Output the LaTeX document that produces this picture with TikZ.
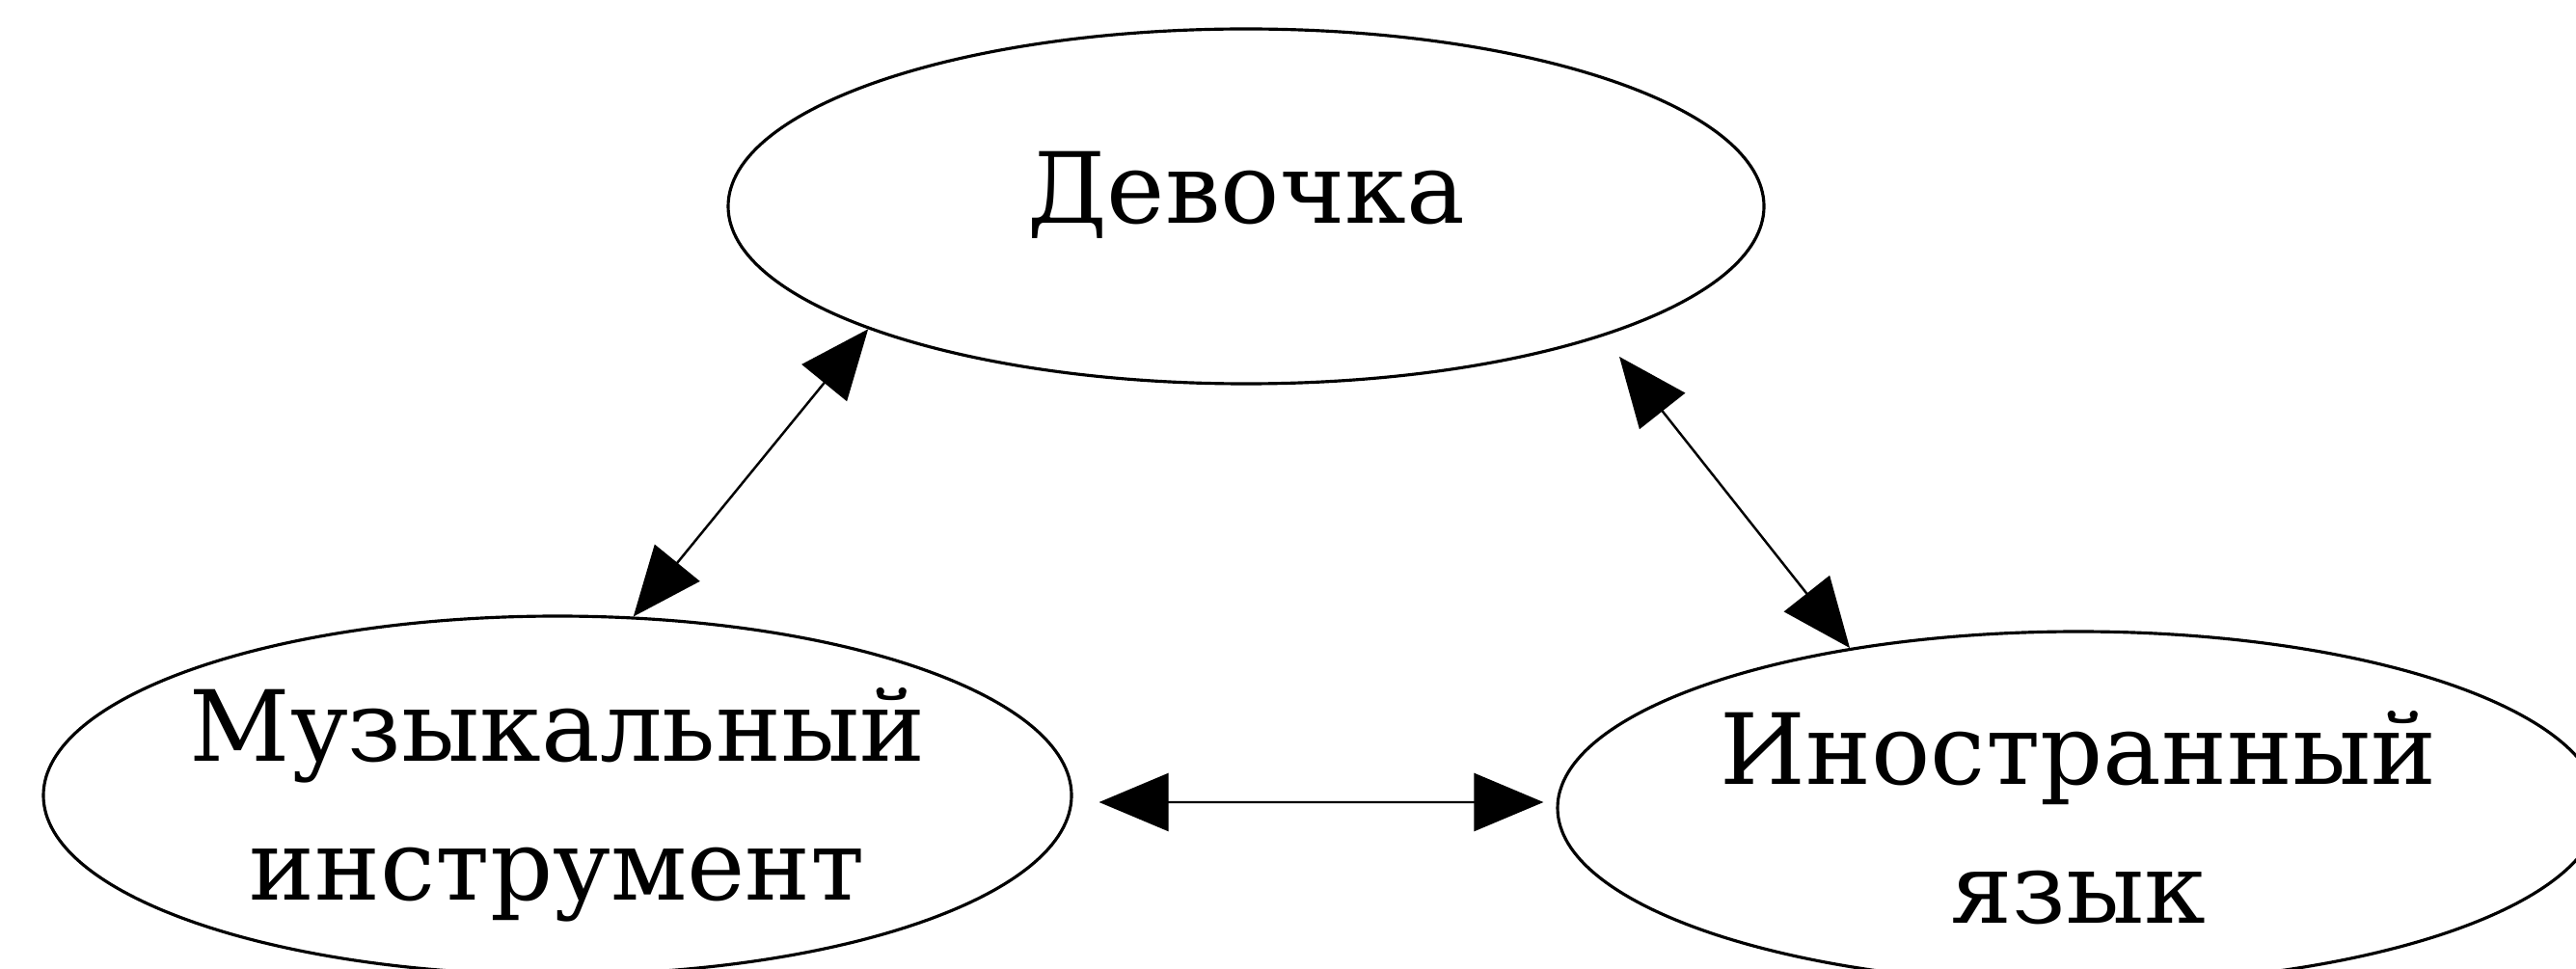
\documentclass[tikz,border=0pt]{standalone}
\usepackage{fontspec}
\setmainfont{DejaVu Serif}
\usetikzlibrary{shapes.geometric, arrows.meta, positioning}

\begin{document}
\begin{tikzpicture}[
    topic/.style={ellipse, draw, line width=0.9pt, align=center, inner sep=-0.5cm, font=\fontsize{29}{41}\selectfont},
    link/.style={line width=0.7pt, {Triangle[length=0.72cm, width=0.6cm]}-{Triangle[length=0.72cm, width=0.6cm]}}
]
\useasboundingbox (0,0) rectangle (26.71,-10.05);

\node[topic, minimum width=10.74cm, minimum height=3.68cm, text height=0.8cm, text depth=0.44cm] (girl) at (12.92,-2.14) {Девочка};
\node[topic, minimum width=10.66cm, minimum height=3.72cm] (music) at (5.78,-8.25) {\rule{0pt}{1cm}Музыкальный\\инструмент\rule[-0.27cm]{0pt}{0pt}};
\node[topic, minimum width=10.80cm, minimum height=3.66cm] (lang) at (21.55,-8.38) {\rule{0pt}{1cm}Иностранный\\язык\rule[-0.05cm]{0pt}{0pt}};

\draw[link] (music.67.9) -- (girl.198.1);
\draw[link, shorten >=0.27cm] (lang.145.3) -- (girl.340.5);
\draw[link] ([xshift=0.27cm, yshift=-0.07cm]music.east) -- ([xshift=-0.13cm, yshift=0.06cm]lang.west);

\end{tikzpicture}
\end{document}
